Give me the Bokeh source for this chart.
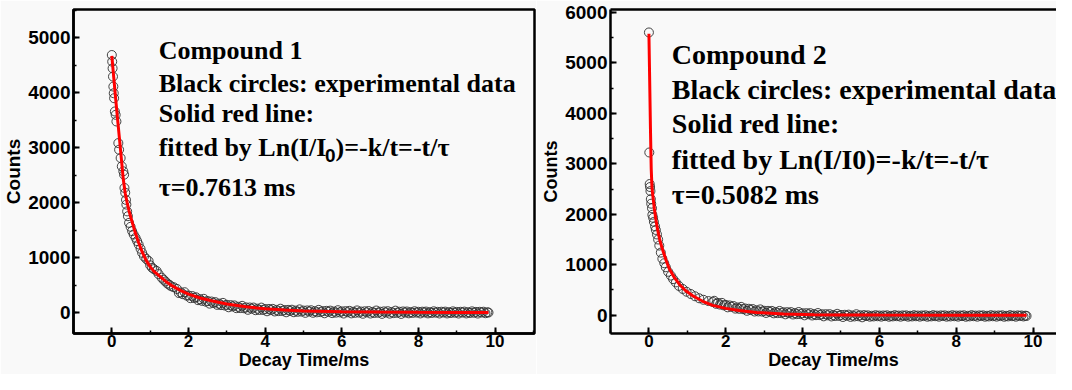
from bokeh.plotting import figure
from bokeh.layouts import row
from bokeh.models import Label, SingleIntervalTicker, LinearAxis, FixedTicker, Range1d
from bokeh.embed import file_html
from bokeh.resources import INLINE

# ---------------- data ----------------
c1_time = [
    0.00, 0.01, 0.02, 0.03, 0.04, 0.05, 0.06, 0.08, 0.10, 0.12,
    0.17, 0.19, 0.23, 0.26, 0.30, 0.32, 0.33, 0.35, 0.37, 0.38,
    0.40, 0.42, 0.45, 0.49, 0.53, 0.57, 0.62, 0.66, 0.70, 0.75,
    0.79, 0.84, 0.90, 0.96, 1.00, 1.05, 1.10, 1.17, 1.22, 1.30,
    1.35, 1.40, 1.45, 1.50, 1.55, 1.62,
    1.70, 1.75, 1.80, 1.85, 1.90, 1.95, 2.00, 2.05, 2.10, 2.15,
    2.20, 2.25, 2.30, 2.35, 2.40, 2.45, 2.50, 2.55, 2.60, 2.65,
    2.70, 2.75, 2.80, 2.85, 2.90, 2.95, 3.00, 3.05, 3.10, 3.15,
    3.20, 3.25, 3.30, 3.35, 3.40, 3.45, 3.50, 3.55, 3.60, 3.65,
    3.70, 3.75, 3.80, 3.85, 3.90, 3.95, 4.00, 4.05, 4.10, 4.15,
    4.20, 4.25, 4.30, 4.35, 4.40, 4.45, 4.50, 4.55, 4.60, 4.65,
    4.70, 4.75, 4.80, 4.85, 4.90, 4.95, 5.00, 5.05, 5.10, 5.15,
    5.20, 5.25, 5.30, 5.35, 5.40, 5.45, 5.50, 5.55, 5.60, 5.65,
    5.70, 5.75, 5.80, 5.85, 5.90, 5.95, 6.00, 6.05, 6.10, 6.15,
    6.20, 6.25, 6.30, 6.35, 6.40, 6.45, 6.50, 6.55, 6.60, 6.65,
    6.70, 6.75, 6.80, 6.85, 6.90, 6.95, 7.00, 7.05, 7.10, 7.15,
    7.20, 7.25, 7.30, 7.35, 7.40, 7.45, 7.50, 7.55, 7.60, 7.65,
    7.70, 7.75, 7.80, 7.85, 7.90, 7.95, 8.00, 8.05, 8.10, 8.15,
    8.20, 8.25, 8.30, 8.35, 8.40, 8.45, 8.50, 8.55, 8.60, 8.65,
    8.70, 8.75, 8.80, 8.85, 8.90, 8.95, 9.00, 9.05, 9.10, 9.15,
    9.20, 9.25, 9.30, 9.35, 9.40, 9.45, 9.50, 9.55, 9.60, 9.65,
    9.70, 9.75, 9.80, 9.83,
]
c1_counts = [
    4685, 4565, 4443, 4293, 4111, 3990, 3899, 3658, 3597, 3476,
    3083, 2962, 2811, 2660, 2570, 2508, 2267, 2180, 2050, 1964,
    1840, 1753, 1632, 1560, 1482, 1420, 1360, 1300, 1239, 1160,
    1088, 1020, 975, 938, 860, 815, 790, 756, 700, 635,
    598, 565, 528, 505, 478, 460,
    430, 355, 367, 335, 370, 308, 310, 262, 300, 265,
    278, 225, 243, 213, 250, 198, 210, 162, 201, 173,
    190, 140, 163, 135, 176, 128, 142, 96, 135, 111,
    130, 80, 105, 81, 122, 78, 94, 50, 92, 69,
    91, 43, 70, 47, 90, 47, 65, 23, 66, 44,
    67, 20, 48, 26, 70, 28, 47, 5, 49, 28,
    52, 6, 35, 14, 58, 17, 36, -5, 39, 18,
    42, -4, 25, 4, 49, 8, 27, -13, 31, 11,
    35, -10, 19, -1, 43, 3, 22, -18, 26, 6,
    31, -15, 15, -5, 39, -1, 19, -22, 23, 3,
    28, -18, 12, -8, 37, -4, 16, -24, 21, 1,
    25, -20, 10, -10, 35, -5, 15, -25, 20, 0,
    19, -14, 9, -6, 24, -1, 14, -16, 16, 2,
    18, -15, 8, -7, 23, -2, 13, -17, 15, 1,
    17, -16, 7, -8, 22, -3, 12, -18, 14, 0,
    17, -16, 7, -8, 22, -3, 12, -18, 14, 0,
    15, -12, 5, 0,
]
c1_fit_time = [0, 0.05, 0.1, 0.15, 0.2, 0.25, 0.3, 0.35, 0.4, 0.45, 0.5, 0.55,
               0.6, 0.7, 0.8, 0.9, 1.0, 1.1, 1.2, 1.3, 1.4, 1.6, 1.8, 2.0, 2.3,
               2.6, 3.0, 3.5, 4.0, 4.5, 5.0, 6.0, 7.0, 8.0, 9.0, 9.83]
c1_fit_counts = [4670, 4280, 3890, 3520, 3160, 2790, 2420, 2170, 2000, 1850, 1720, 1600,
                 1480, 1270, 1090, 945, 835, 750, 690, 630, 570, 475, 400, 335, 265,
                 215, 155, 105, 68, 45, 30, 15, 8, 4, 2, 0]

c2_time = [
    0.00, 0.01, 0.02, 0.03, 0.04, 0.05, 0.06, 0.08, 0.09, 0.11,
    0.13, 0.16, 0.18, 0.21, 0.24, 0.27, 0.31, 0.35, 0.40, 0.44,
    0.50, 0.57, 0.63, 0.70, 0.78, 0.88, 0.98, 1.09, 1.20, 1.31,
    1.42, 1.55, 1.66,
    1.70, 1.75, 1.80, 1.85, 1.90, 1.95, 2.00, 2.05, 2.10, 2.15,
    2.20, 2.25, 2.30, 2.35, 2.40, 2.45, 2.50, 2.55, 2.60, 2.65,
    2.70, 2.75, 2.80, 2.85, 2.90, 2.95, 3.00, 3.05, 3.10, 3.15,
    3.20, 3.25, 3.30, 3.35, 3.40, 3.45, 3.50, 3.55, 3.60, 3.65,
    3.70, 3.75, 3.80, 3.85, 3.90, 3.95, 4.00, 4.05, 4.10, 4.15,
    4.20, 4.25, 4.30, 4.35, 4.40, 4.45, 4.50, 4.55, 4.60, 4.65,
    4.70, 4.75, 4.80, 4.85, 4.90, 4.95, 5.00, 5.05, 5.10, 5.15,
    5.20, 5.25, 5.30, 5.35, 5.40, 5.45, 5.50, 5.55, 5.60, 5.65,
    5.70, 5.75, 5.80, 5.85, 5.90, 5.95, 6.00, 6.05, 6.10, 6.15,
    6.20, 6.25, 6.30, 6.35, 6.40, 6.45, 6.50, 6.55, 6.60, 6.65,
    6.70, 6.75, 6.80, 6.85, 6.90, 6.95, 7.00, 7.05, 7.10, 7.15,
    7.20, 7.25, 7.30, 7.35, 7.40, 7.45, 7.50, 7.55, 7.60, 7.65,
    7.70, 7.75, 7.80, 7.85, 7.90, 7.95, 8.00, 8.05, 8.10, 8.15,
    8.20, 8.25, 8.30, 8.35, 8.40, 8.45, 8.50, 8.55, 8.60, 8.65,
    8.70, 8.75, 8.80, 8.85, 8.90, 8.95, 9.00, 9.05, 9.10, 9.15,
    9.20, 9.25, 9.30, 9.35, 9.40, 9.45, 9.50, 9.55, 9.60, 9.65,
    9.70, 9.75, 9.80, 9.83,
]
c2_counts = [
    5604, 3225, 2600, 2540, 2460, 2300, 2210, 2120, 1990, 1930,
    1850, 1760, 1690, 1600, 1500, 1380, 1240, 1120, 1030, 950,
    860, 785, 715, 650, 580, 520, 465, 420, 375, 335,
    305, 280, 262,
    285, 225, 243, 210, 244, 194, 205, 156, 193, 165,
    182, 130, 153, 126, 165, 119, 133, 87, 127, 102,
    122, 72, 98, 74, 115, 71, 87, 44, 86, 63,
    85, 37, 64, 41, 84, 41, 59, 17, 60, 38,
    61, 14, 42, 20, 63, 21, 39, -3, 40, 18,
    41, -6, 22, 0, 43, 1, 19, -23, 20, -2,
    21, -25, 4, -17, 27, -14, 5, -36, 8, -13,
    11, -34, -5, -25, 19, -21, -2, -42, 2, -18,
    -3, -30, -11, -25, 0, -21, -7, -29, -5, -18,
    -2, -31, -12, -24, 1, -20, -8, -30, -4, -17,
    -3, -30, -11, -25, 0, -21, -7, -29, -5, -18,
    -2, -31, -12, -24, 1, -20, -8, -30, -4, -17,
    -3, -30, -11, -25, 0, -21, -7, -29, -5, -18,
    -2, -31, -12, -24, 1, -20, -8, -30, -4, -17,
    -3, -30, -11, -25, 0, -21, -7, -29, -5, -18,
    -2, -31, -12, -24, 1, -20, -8, -30, -4, -17,
    -5, -25, -10, -15,
]
c2_fit_time = [0, 0.02, 0.04, 0.06, 0.08, 0.10, 0.14, 0.18, 0.22, 0.28, 0.35, 0.45,
               0.53, 0.65, 0.79, 0.95, 1.14, 1.4, 1.66, 2.0, 2.35, 2.8, 3.5, 4.3,
               5.0, 6.0, 8.0, 9.83]
c2_fit_counts = [5580, 4650, 3700, 2900, 2520, 2380, 2120, 1900, 1720, 1500, 1310, 1080,
                 920, 760, 614, 490, 385, 275, 195, 135, 92, 55, 25, 10,
                 5, 2, 0, 0]

x_tick_step = 2
y_tick_step = 1000

panel1_lines = ["Compound 1", "Black circles: experimental data", "Solid red line:",
                "fitted by Ln(I/I", "τ=0.7613 ms"]
panel1_sub = ["0", ")=-k/t=-t/τ"]
panel2_lines = ["Compound 2", "Black circles: experimental data", "Solid red line:",
                "fitted by Ln(I/I0)=-k/t=-t/τ", "τ=0.5082 ms"]
x_title = "Decay Time/ms"
y_title = "Counts"

BG = "#f9f9f9"
SERIF = "Liberation Serif"
SANS = "Liberation Sans"


def style_axis(ax, size, label_size):
    ax.axis_line_width = 2.5
    ax.axis_line_color = "black"
    ax.major_tick_line_width = 2
    ax.minor_tick_line_width = 1.5
    ax.major_tick_in = 6
    ax.major_tick_out = 0
    ax.minor_tick_in = 3
    ax.minor_tick_out = 0
    ax.major_label_text_font = SANS
    ax.major_label_text_font_style = "bold"
    ax.major_label_text_font_size = size
    ax.major_label_text_color = "black"
    ax.axis_label_text_font = SANS
    ax.axis_label_text_font_style = "bold"
    ax.axis_label_text_font_size = label_size
    ax.axis_label_text_color = "black"


def make_panel(width, bl, br, bt, bb, xr, yr, ylabel_size):
    p = figure(width=width, height=374, x_range=Range1d(*xr), y_range=Range1d(*yr),
               output_backend="svg", toolbar_location=None,
               min_border_left=bl, min_border_right=br,
               min_border_top=bt, min_border_bottom=bb)
    p.background_fill_color = BG
    p.border_fill_color = BG
    p.grid.visible = False
    xa = p.xaxis[0]
    ya = p.yaxis[0]
    xa.ticker = SingleIntervalTicker(interval=x_tick_step, num_minor_ticks=2)
    ya.ticker = SingleIntervalTicker(interval=y_tick_step, num_minor_ticks=2)
    style_axis(xa, "17px", "18px")
    style_axis(ya, "19px", ylabel_size)
    xa.major_label_standoff = 1
    ya.major_label_standoff = 3
    xa.axis_label = x_title
    xa.axis_label_standoff = 0
    ya.axis_label = y_title
    ya.axis_label_standoff = 1
    return p


def add_data(p, t, c, ft, fc):
    p.scatter(t, c, marker="circle", size=9, fill_color=None,
              line_color="#303030", line_width=1, line_alpha=0.9)
    p.line(ft, fc, line_color="#ff0000", line_width=3)


def text(p, x, y, s, size, font=SERIF):
    p.add_layout(Label(x=x, y=y, text=s, text_font=font, text_font_style="bold",
                       text_font_size=size, text_color="black", text_align="left",
                       text_baseline="alphabetic"))


# ---------------- panel 1 ----------------
p1 = make_panel(536, 69, 2, 8, 41, (-1, 11.03), (-381, 5513), "19px")
p1.outline_line_color = "black"
p1.outline_line_width = 2.5
add_data(p1, c1_time, c1_counts, c1_fit_time, c1_fit_counts)
for s, yv in zip(panel1_lines, [4764, 4171, 3614, 3002, 2267]):
    text(p1, 1.223, yv, s, "26px")
text(p1, 5.56, 2865, panel1_sub[0], "19px", font=SANS)
text(p1, 5.84, 3002, panel1_sub[1], "26px")

# ---------------- panel 2 ----------------
p2 = make_panel(520, 74, 0, 9, 41, (-1, 10.61), (-363, 6059), "18px")
p2.outline_line_color = None
top = LinearAxis(ticker=FixedTicker(ticks=[]), major_label_text_font_size="0px",
                 major_tick_out=0, minor_tick_out=0, major_tick_in=0, minor_tick_in=0,
                 major_label_standoff=0, axis_line_width=2.5, axis_line_color="black")
p2.add_layout(top, "above")
add_data(p2, c2_time, c2_counts, c2_fit_time, c2_fit_counts)
for s, yv in zip(panel2_lines, [5173, 4480, 3800, 3092, 2398]):
    text(p2, 0.596, yv, s, "28px")

layout = row(p1, p2)
open("out.html", "w").write(file_html(layout, INLINE))
